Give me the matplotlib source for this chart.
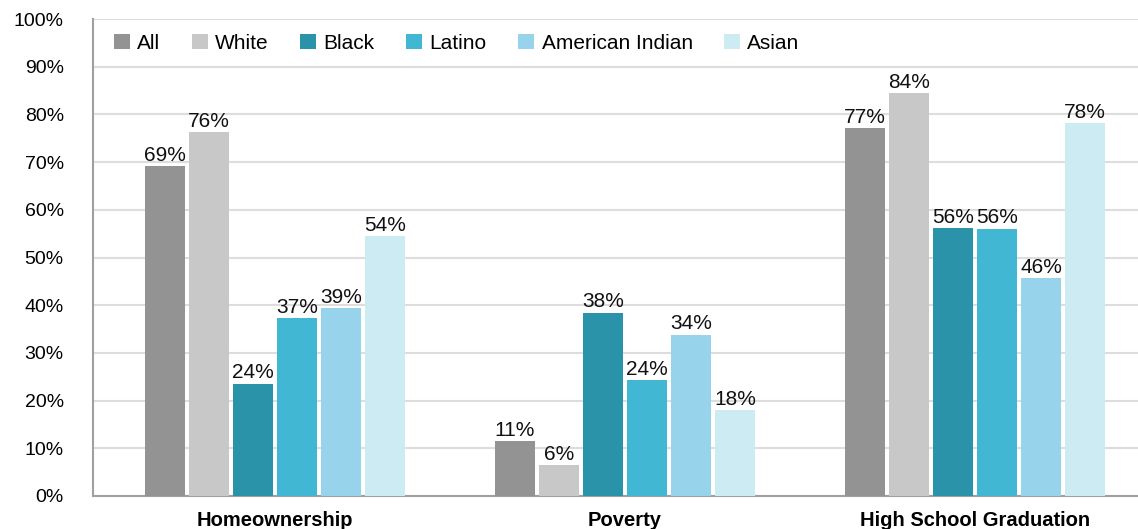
import numpy as np
import matplotlib.pyplot as plt

categories = ['Homeownership', 'Poverty', 'High School Graduation']
groups = ['All', 'White', 'Black', 'Latino', 'American Indian', 'Asian']
values = {
    'All': [69.2, 11.5, 77.1],
    'White': [76.3, 6.5, 84.5],
    'Black': [23.5, 38.4, 56.2],
    'Latino': [37.3, 24.3, 56.0],
    'American Indian': [39.4, 33.8, 45.7],
    'Asian': [54.5, 18.0, 78.2],
}
labels = {
    'All': ['69%', '11%', '77%'],
    'White': ['76%', '6%', '84%'],
    'Black': ['24%', '38%', '56%'],
    'Latino': ['37%', '24%', '56%'],
    'American Indian': ['39%', '34%', '46%'],
    'Asian': ['54%', '18%', '78%'],
}
colors = ['#939393', '#c8c8c8', '#2a93a9', '#42b7d3', '#98d3ec', '#cdebf3']

plt.rcParams['font.family'] = ['Liberation Sans', 'DejaVu Sans']

fig = plt.figure(figsize=(11.38, 5.29), dpi=100)
ax = fig.add_axes([0.0817, 0.0624, 0.9183, 0.9016])

x = np.arange(len(categories))
step = 0.126
width = 0.114
for i, g in enumerate(groups):
    pos = x + (i - 2.5) * step
    bars = ax.bar(pos, values[g], width, color=colors[i], label=g, zorder=3)
    for b, lab in zip(bars, labels[g]):
        ax.text(b.get_x() + b.get_width() / 2, b.get_height() + 0.3, lab,
                ha='center', va='bottom', fontsize=15, color='#111111', zorder=4)

ax.set_xlim(-0.52, 2.466)
ax.set_ylim(0, 100)
ax.set_yticks(np.arange(0, 101, 10))
ax.set_yticklabels([f'{v}%' for v in range(0, 101, 10)], fontsize=14)
ax.set_xticks(x)
ax.set_xticklabels(categories, fontsize=14.5, fontweight='bold')
ax.tick_params(axis='both', length=0)
ax.tick_params(axis='x', pad=11)
ax.tick_params(axis='y', pad=21)

ax.grid(axis='y', color='#dddddd', linewidth=1.5, zorder=0)
for s in ['top', 'right']:
    ax.spines[s].set_visible(False)
ax.spines['left'].set_color('#a0a0a0')
ax.spines['bottom'].set_color('#a0a0a0')
ax.spines['left'].set_linewidth(1.5)
ax.spines['bottom'].set_linewidth(1.5)

leg = ax.legend(loc='upper left', bbox_to_anchor=(0.006, 1.0), ncol=6, frameon=False,
                fontsize=15, handlelength=0.78, handleheight=0.78, handletextpad=0.35,
                columnspacing=1.5, borderaxespad=0.3)

fig.savefig('out.png', dpi=100, facecolor='white')
